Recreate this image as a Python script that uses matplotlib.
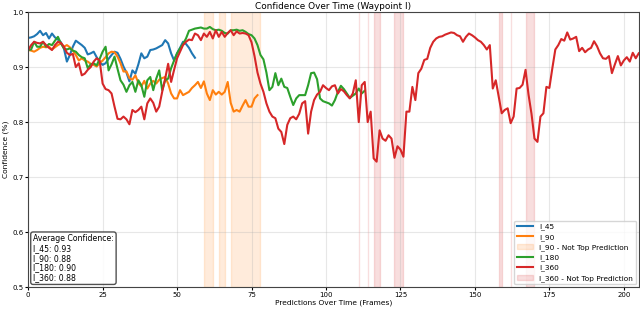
import matplotlib
matplotlib.use("Agg")
import matplotlib.pyplot as plt
import numpy as np

i45 = [0.953, 0.954, 0.956, 0.960, 0.966, 0.958, 0.962, 0.952, 0.961, 0.954,
       0.950, 0.945, 0.934, 0.910, 0.922, 0.937, 0.948, 0.944, 0.940, 0.935,
       0.923, 0.925, 0.928, 0.918, 0.910, 0.904, 0.907, 0.915, 0.922, 0.928,
       0.926, 0.915, 0.901, 0.890, 0.874, 0.894, 0.888, 0.905, 0.925, 0.916,
       0.919, 0.931, 0.932, 0.934, 0.937, 0.940, 0.949, 0.943, 0.925, 0.912,
       0.925, 0.935, 0.946, 0.942, 0.935, 0.925, 0.917]

i90 = [0.931, 0.930, 0.928, 0.931, 0.935, 0.937, 0.936, 0.937, 0.932, 0.936,
       0.940, 0.943, 0.937, 0.940, 0.936, 0.930, 0.922, 0.912, 0.916, 0.912,
       0.910, 0.906, 0.904, 0.901, 0.907, 0.912, 0.918, 0.925, 0.928, 0.927,
       0.919, 0.907, 0.892, 0.892, 0.880, 0.877, 0.885, 0.871, 0.865, 0.875,
       0.861, 0.870, 0.875, 0.870, 0.877, 0.880, 0.882, 0.870, 0.852, 0.843,
       0.843, 0.858, 0.849, 0.852, 0.855, 0.862, 0.867, 0.873, 0.862, 0.874,
       0.852, 0.840, 0.858, 0.850, 0.855, 0.850, 0.855, 0.873, 0.835, 0.819,
       0.822, 0.819, 0.830, 0.840, 0.828, 0.828, 0.843, 0.849]

i180 = [0.931, 0.932, 0.946, 0.937, 0.937, 0.946, 0.937, 0.942, 0.940, 0.948,
        0.955, 0.943, 0.934, 0.932, 0.934, 0.930, 0.928, 0.922, 0.918, 0.916,
        0.898, 0.905, 0.907, 0.903, 0.915, 0.928, 0.937, 0.894, 0.905, 0.919,
        0.897, 0.876, 0.868, 0.855, 0.867, 0.873, 0.855, 0.876, 0.867, 0.846,
        0.876, 0.882, 0.858, 0.879, 0.894, 0.858, 0.876, 0.879, 0.898, 0.912,
        0.925, 0.934, 0.942, 0.952, 0.966, 0.968, 0.970, 0.971, 0.972, 0.970,
        0.970, 0.973, 0.969, 0.967, 0.968, 0.966, 0.962, 0.961, 0.967, 0.967,
        0.968, 0.966, 0.967, 0.964, 0.960, 0.958, 0.952, 0.940, 0.922, 0.914,
        0.890, 0.858, 0.864, 0.889, 0.867, 0.879, 0.864, 0.862, 0.846, 0.831,
        0.843, 0.849, 0.849, 0.849, 0.867, 0.889, 0.890, 0.878, 0.843, 0.838,
        0.836, 0.834, 0.830, 0.840, 0.855, 0.866, 0.860, 0.852, 0.844, 0.848,
        0.852, 0.861, 0.852, 0.857]

i360 = [0.931, 0.940, 0.946, 0.944, 0.943, 0.946, 0.940, 0.935, 0.931, 0.940,
        0.946, 0.944, 0.937, 0.926, 0.922, 0.924, 0.900, 0.907, 0.885, 0.888,
        0.895, 0.900, 0.910, 0.916, 0.912, 0.870, 0.860, 0.858, 0.852, 0.828,
        0.806, 0.805, 0.810, 0.805, 0.796, 0.822, 0.818, 0.822, 0.828, 0.805,
        0.834, 0.843, 0.835, 0.819, 0.828, 0.855, 0.879, 0.906, 0.873, 0.895,
        0.916, 0.928, 0.940, 0.946, 0.950, 0.949, 0.961, 0.958, 0.949, 0.961,
        0.955, 0.964, 0.952, 0.967, 0.955, 0.964, 0.955, 0.962, 0.967, 0.958,
        0.965, 0.961, 0.962, 0.961, 0.958, 0.945, 0.920, 0.890, 0.870, 0.855,
        0.834, 0.819, 0.810, 0.807, 0.788, 0.782, 0.760, 0.795, 0.807, 0.810,
        0.805, 0.815, 0.834, 0.838, 0.779, 0.819, 0.840, 0.850, 0.855, 0.867,
        0.862, 0.858, 0.865, 0.867, 0.852, 0.860, 0.856, 0.849, 0.843, 0.852,
        0.876, 0.800, 0.867, 0.873, 0.800, 0.819, 0.734, 0.728, 0.785, 0.770,
        0.766, 0.776, 0.770, 0.735, 0.756, 0.750, 0.737, 0.819, 0.819, 0.864,
        0.840, 0.889, 0.897, 0.913, 0.915, 0.935, 0.946, 0.952, 0.955, 0.956,
        0.959, 0.961, 0.963, 0.962, 0.958, 0.956, 0.946, 0.955, 0.961, 0.958,
        0.954, 0.949, 0.946, 0.940, 0.932, 0.940, 0.861, 0.876, 0.846, 0.816,
        0.822, 0.825, 0.798, 0.810, 0.861, 0.862, 0.868, 0.895, 0.850, 0.815,
        0.770, 0.764, 0.810, 0.816, 0.864, 0.862, 0.898, 0.932, 0.940, 0.951,
        0.948, 0.963, 0.950, 0.952, 0.955, 0.929, 0.935, 0.927, 0.932, 0.935,
        0.947, 0.938, 0.925, 0.916, 0.915, 0.920, 0.889, 0.905, 0.920, 0.903,
        0.912, 0.918, 0.910, 0.926, 0.916, 0.925]

series = {"I_45": i45, "I_90": i90, "I_180": i180, "I_360": i360}
colors = {"I_45": "#1f77b4", "I_90": "#ff7f0e", "I_180": "#2ca02c", "I_360": "#d62728"}
# Not-top-prediction frame ranges (start, end)
i90_not_top = [(59, 62), (64, 66), (68, 78)]
i360_not_top = [(111, 111), (114, 114), (116, 118), (123, 126), (158, 159),
                (162, 162), (167, 170)]
avg_labels = ["I_45", "I_90", "I_180", "I_360"]
avg_values = [0.93, 0.88, 0.90, 0.88]

fig = plt.figure(figsize=(6.4, 3.1), dpi=100)
ax = fig.add_axes([0.044, 0.074, 0.954, 0.887])

for name in ["I_45", "I_90", "I_180", "I_360"]:
    vals = series[name]
    ax.plot(np.arange(len(vals)), vals, color=colors[name], lw=1.5, label=name)
    if name == "I_90":
        for k, (s, e) in enumerate(i90_not_top):
            ax.axvspan(s, e, color=colors[name], alpha=0.15, lw=1,
                       label="I_90 - Not Top Prediction" if k == 0 else None)
    if name == "I_360":
        for k, (s, e) in enumerate(i360_not_top):
            ax.axvspan(s, e, color=colors[name], alpha=0.15, lw=1,
                       label="I_360 - Not Top Prediction" if k == 0 else None)

ax.set_xlim(0, len(i360) - 1)
ax.set_ylim(0.5, 1.0)
ax.set_xticks(np.arange(0, 201, 25))
ax.set_yticks(np.arange(0.5, 1.01, 0.1))
ax.tick_params(labelsize=5, length=2, pad=1.5)
for sp in ax.spines.values():
    sp.set_color("#444444")
ax.grid(True, alpha=0.3)
ax.set_title("Confidence Over Time (Waypoint I)", fontsize=6.4, pad=2)
ax.set_xlabel("Predictions Over Time (Frames)", fontsize=5.4, labelpad=1)
ax.set_ylabel("Confidence (%)", fontsize=5.4, labelpad=2)
ax.legend(loc="lower right", fontsize=5.3, handlelength=2.2, labelspacing=0.45,
          borderpad=0.4, borderaxespad=0.35)

text = "Average Confidence:\n" + "\n".join(f"{l}: {v:.2f}" for l, v in zip(avg_labels, avg_values))
ax.text(0.008, 0.018, text, transform=ax.transAxes, fontsize=5.6, va="bottom", ha="left",
        linespacing=1.1,
        bbox=dict(boxstyle="round,pad=0.3", facecolor="white", edgecolor="#333333", alpha=0.85))

fig.savefig("out.png", dpi=100)
